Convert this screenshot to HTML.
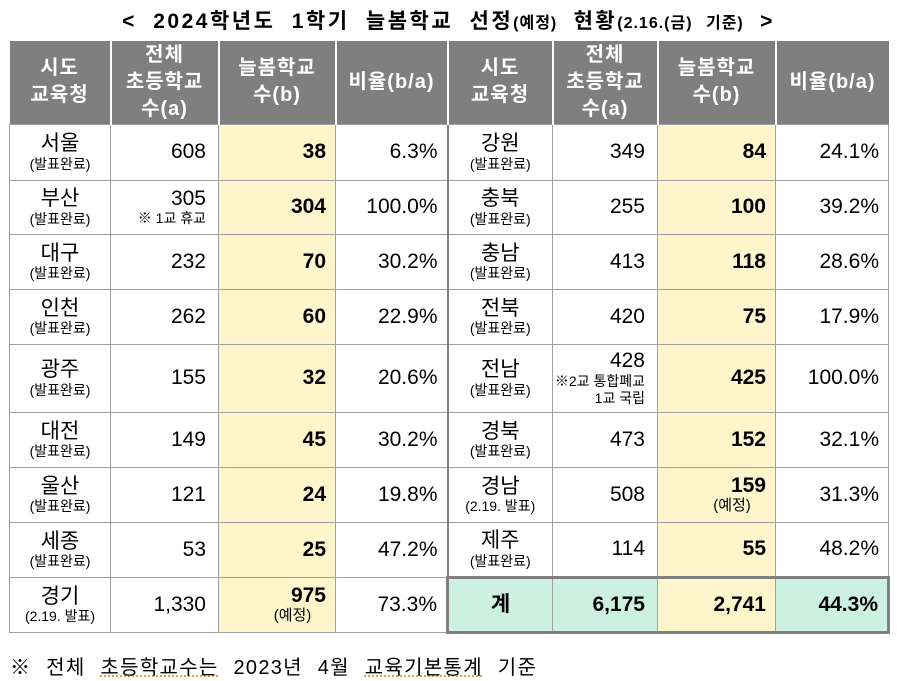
<!DOCTYPE html>
<html><head><meta charset="utf-8"><style>
body{margin:0;width:897px;height:681px;background:#fff;font-family:"Liberation Sans","Noto Sans CJK KR",sans-serif;color:#000;position:relative;overflow:hidden}
.title{position:absolute;top:5px;left:0;width:897px;text-align:center;font-size:21px;font-weight:bold;white-space:nowrap;letter-spacing:2.5px;word-spacing:8px}
.title small{font-size:16px;letter-spacing:1px}
table{position:absolute;left:9px;top:41px;border-collapse:collapse;table-layout:fixed}
td{border:1px solid #a0a0a0;padding:0;font-size:21px;line-height:1.1;overflow:hidden}
tr.h td{background:#7f7f7f;color:#fff;font-weight:bold;text-align:center;border-color:#fff;border-width:0 2px 0 0;font-size:20px;line-height:27px;letter-spacing:1px}
.n{text-align:center}
.n span{display:block;font-size:14px;line-height:16px}
.r{text-align:right;padding-right:12px}
.y{background:#fff5cc;text-align:right;padding-right:9px;font-weight:bold}
.y span{display:block;font-weight:normal;font-size:15px;text-align:center;padding-left:40px;line-height:18px}
.p{text-align:right;padding-right:9px}
.mid{border-left:2px solid #808080}
.s{display:block;font-size:14px;line-height:17px}
.tot{background:#ccf0e2;font-weight:bold;border:3px solid #808080 !important}
.foot{position:absolute;left:10px;top:651px;font-size:20px;white-space:nowrap;letter-spacing:1.3px;word-spacing:8px}
.foot u{text-decoration:underline dotted #e0a040}
</style></head><body>
<div class="title">&lt; 2024학년도 1학기 늘봄학교 선정<small>(예정)</small> 현황<small>(2.16.(금) 기준)</small> &gt;</div>
<table>
<colgroup><col style="width:101px"><col style="width:108px"><col style="width:117px"><col style="width:112px"><col style="width:105px"><col style="width:105px"><col style="width:118px"><col style="width:113px"></colgroup>
<tr class="h" style="height:83px"><td>시도<br>교육청</td><td>전체<br>초등학교<br>수(a)</td><td>늘봄학교<br>수(b)</td><td>비율(b/a)</td><td>시도<br>교육청</td><td>전체<br>초등학교<br>수(a)</td><td>늘봄학교<br>수(b)</td><td style="border:0">비율(b/a)</td></tr>
<tr style="height:56px"><td class="n">서울<span>(발표완료)</span></td><td class="r">608</td><td class="y">38</td><td class="p">6.3%</td><td class="n mid">강원<span>(발표완료)</span></td><td class="r">349</td><td class="y">84</td><td class="p">24.1%</td></tr>
<tr style="height:54px"><td class="n">부산<span>(발표완료)</span></td><td class="r">305<span class="s">※ 1교 휴교</span></td><td class="y">304</td><td class="p">100.0%</td><td class="n mid">충북<span>(발표완료)</span></td><td class="r">255</td><td class="y">100</td><td class="p">39.2%</td></tr>
<tr style="height:55px"><td class="n">대구<span>(발표완료)</span></td><td class="r">232</td><td class="y">70</td><td class="p">30.2%</td><td class="n mid">충남<span>(발표완료)</span></td><td class="r">413</td><td class="y">118</td><td class="p">28.6%</td></tr>
<tr style="height:55px"><td class="n">인천<span>(발표완료)</span></td><td class="r">262</td><td class="y">60</td><td class="p">22.9%</td><td class="n mid">전북<span>(발표완료)</span></td><td class="r">420</td><td class="y">75</td><td class="p">17.9%</td></tr>
<tr style="height:68px"><td class="n">광주<span>(발표완료)</span></td><td class="r">155</td><td class="y">32</td><td class="p">20.6%</td><td class="n mid">전남<span>(발표완료)</span></td><td class="r">428<span class="s">※2교 통합폐교<br>1교 국립</span></td><td class="y">425</td><td class="p">100.0%</td></tr>
<tr style="height:55px"><td class="n">대전<span>(발표완료)</span></td><td class="r">149</td><td class="y">45</td><td class="p">30.2%</td><td class="n mid">경북<span>(발표완료)</span></td><td class="r">473</td><td class="y">152</td><td class="p">32.1%</td></tr>
<tr style="height:55px"><td class="n">울산<span>(발표완료)</span></td><td class="r">121</td><td class="y">24</td><td class="p">19.8%</td><td class="n mid">경남<span>(2.19. 발표)</span></td><td class="r">508</td><td class="y">159<span>(예정)</span></td><td class="p">31.3%</td></tr>
<tr style="height:55px"><td class="n">세종<span>(발표완료)</span></td><td class="r">53</td><td class="y">25</td><td class="p">47.2%</td><td class="n mid">제주<span>(발표완료)</span></td><td class="r">114</td><td class="y">55</td><td class="p">48.2%</td></tr>
<tr style="height:55px"><td class="n">경기<span>(2.19. 발표)</span></td><td class="r">1,330</td><td class="y">975<span>(예정)</span></td><td class="p">73.3%</td><td class="tot n" style="border-right:1px solid #a0a0a0 !important">계</td><td class="tot r" style="border-left:1px solid #a0a0a0 !important;border-right:1px solid #a0a0a0 !important">6,175</td><td class="y" style="border-top:3px solid #808080;border-bottom:3px solid #808080">2,741</td><td class="tot p" style="border-left:1px solid #a0a0a0 !important">44.3%</td></tr>
</table>
<div class="foot">※ 전체 <u>초등학교수는</u> 2023년 4월 <u>교육기본통계</u> 기준</div>
</body></html>
